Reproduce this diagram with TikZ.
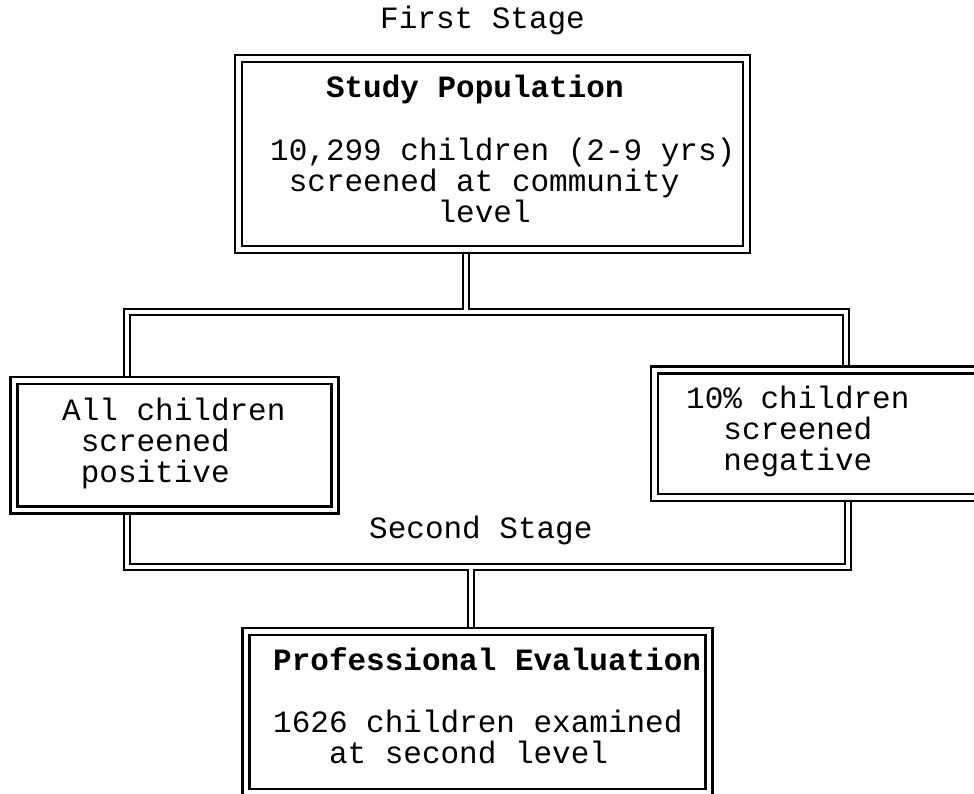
\documentclass[tikz,border=0pt]{standalone}
\usepackage{fontspec}
\newfontfamily\mono{Liberation Mono}
\usetikzlibrary{backgrounds}
\tikzset{
  box/.style={draw=black, line width=2.4pt, double=white, double distance=4.6pt, inner sep=0pt},
  pipe/.style={draw=black, line width=2.2pt, line join=miter},
  txt/.style={font=\mono\fontsize{31}{31}\selectfont, anchor=base west, inner sep=0pt},
  head/.style={txt, font=\mono\bfseries\fontsize{31}{31}\selectfont},
}
\begin{document}
\begin{tikzpicture}[x=1pt,y=-1pt]
\useasboundingbox (0,0) rectangle (974,793);
\clip (0,0) rectangle (974,793);

% boxes (double frames)
\node[box, minimum width=508pt, minimum height=191pt] (top) at (492.5,154) {};
\node[box, minimum width=321pt, minimum height=129.5pt] (left) at (174.5,445.25) {};
\node[box, minimum width=335.5pt, minimum height=127.5pt] (right) at (822.25,433.75) {};
\node[box, minimum width=463pt, minimum height=161pt] (bot) at (477.5,712) {};

% stage titles
\node[txt] (first) at (380,28) {First Stage};
\node[txt] (second) at (369,538) {Second Stage};

% first stage box
\node[head] (top1) at (270,97) {\phantom{000}Study Population};
\node[txt] (top2) at (270,160) {10,299 children (2-9 yrs)};
\node[txt] (top3) at (270,191) {\phantom{0}screened at community};
\node[txt] (top4) at (270,222) {\phantom{000000000}level};

% screened groups
\node[txt] (left1) at (62,420) {All children};
\node[txt] (left2) at (62,451) {\phantom{0}screened};
\node[txt] (left3) at (62,482) {\phantom{0}positive};
\node[txt] (right1) at (686,408) {10\% children};
\node[txt] (right2) at (686,439) {\phantom{00}screened};
\node[txt] (right3) at (686,470) {\phantom{00}negative};

% second stage box
\node[head] (bot1) at (273,670) {Professional Evaluation};
\node[txt] (bot2) at (273,732) {1626 children examined};
\node[txt] (bot3) at (273,763) {\phantom{000}at second level};

% double-line pipes between the boxes
\begin{scope}[on background layer]
  \draw[pipe] (463,0 |- top.south) -- (463,309) -| (124,0 |- left.north);
  \draw[pipe] (469,0 |- top.south) -- (469,309) -| (849,0 |- right.north);
  \draw[pipe] (130,0 |- left.north) |- (843,315) -- (843,0 |- right.north);
  \draw[pipe] (124,0 |- left.south) |- (468,570) -- (468,0 |- bot.north);
  \draw[pipe] (130,0 |- left.south) |- (845,564) -- (845,0 |- right.south);
  \draw[pipe] (851,0 |- right.south) |- (474,570) -- (474,0 |- bot.north);
\end{scope}
\end{tikzpicture}
\end{document}
